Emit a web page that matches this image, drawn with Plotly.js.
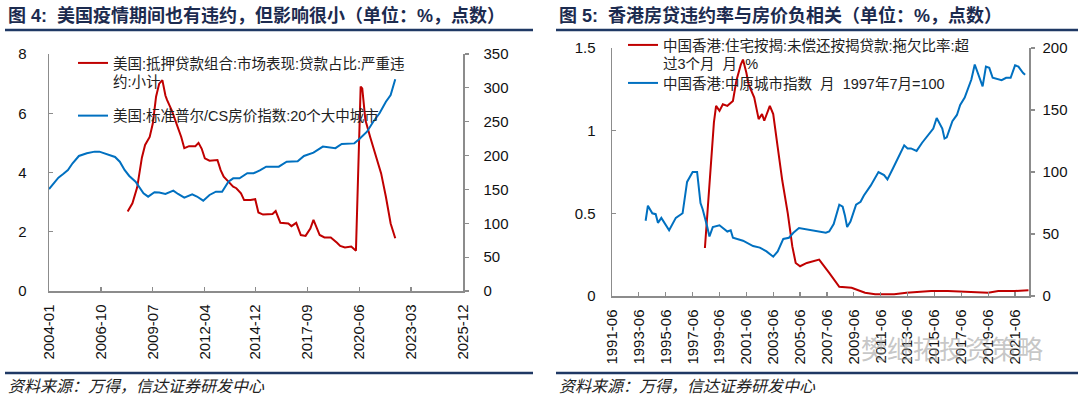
<!DOCTYPE html>
<html>
<head>
<meta charset="utf-8">
<script src="https://cdn.plot.ly/plotly-3.0.1.min.js"></script>
<style>html,body{margin:0;padding:0;background:#fff;}#chart{width:1080px;height:398px;}</style>
</head>
<body>
<div id="chart"></div>
<script>
// ---------- Figure 4 data (US) ----------
const usDelinqDates = ['2008-03','2008-06','2008-09','2008-12','2009-02','2009-05','2009-07','2009-09','2009-11','2010-01','2010-03','2010-04','2010-07','2010-10','2011-01','2011-03','2011-06','2011-10','2011-12','2012-02','2012-04','2012-07','2012-12','2013-02','2013-04','2013-07','2013-10','2013-12','2014-03','2014-05','2014-09','2014-12','2015-02','2015-05','2015-11','2016-01','2016-04','2016-09','2016-11','2017-02','2017-05','2017-08','2017-11','2018-01','2018-03','2018-05','2018-08','2018-12','2019-04','2019-06','2019-09','2020-01','2020-04','2020-07','2020-08','2020-10','2021-01','2021-04','2021-08','2021-11','2022-02','2022-05'];
const usDelinqValues = [2.68,2.96,3.5,4.5,4.93,5.2,5.66,6.56,7.0,7.12,6.6,6.45,6.1,5.66,5.2,4.82,4.89,4.89,5.0,4.8,4.48,4.4,4.42,4.08,3.86,3.69,3.52,3.47,3.3,3.07,3.07,3.1,2.65,2.58,2.6,2.7,2.3,2.28,2.19,2.3,1.89,1.86,2.11,2.4,2.17,1.89,1.81,1.81,1.63,1.52,1.47,1.5,1.36,6.9,6.84,5.77,5.2,4.65,3.97,3.18,2.28,1.78];
const usHpiDates = ['2004-01','2004-03','2004-07','2004-10','2005-01','2005-04','2005-08','2006-01','2006-06','2006-09','2006-12','2007-04','2007-07','2007-10','2008-01','2008-04','2008-08','2009-01','2009-04','2009-08','2009-11','2010-03','2010-08','2010-11','2011-03','2011-08','2011-11','2012-03','2012-07','2012-11','2013-03','2013-07','2013-10','2014-02','2014-07','2014-11','2015-03','2015-07','2016-03','2016-08','2017-03','2017-07','2018-01','2018-07','2018-10','2019-01','2019-03','2019-07','2020-03','2020-06','2020-11','2021-03','2021-07','2021-11','2022-02','2022-05'];
const usHpiValues = [150.6,156.6,167.4,172.8,178.7,188.6,199.4,203.4,205.8,205.8,203.4,199.9,198,191,178.7,169.9,161.5,144.3,139.3,145.8,145.5,143.3,148.2,143.3,137.8,142.8,139.5,133.4,141.8,146.7,146.7,161.5,166.4,166.4,173.9,173.9,178,183.6,183.6,191,191.5,199.4,204.3,213.2,212.2,212,211,217.1,218,224,235.3,250,262.5,279.6,289.5,312.6];
const usTickVals = ['2004-01-01','2006-10-01','2009-07-01','2012-04-01','2014-12-01','2017-09-01','2020-06-01','2023-03-01','2025-12-01'];
const usTickText = ['2004-01','2006-10','2009-07','2012-04','2014-12','2017-09','2020-06','2023-03','2025-12'];
const usDelinqName = '美国:抵押贷款组合:市场表现:贷款占比:严重违<br>约:小计';
const usHpiName = '美国:标准普尔/CS房价指数:20个大中城市';

// ---------- Figure 5 data (Hong Kong) ----------
const hkDelinqDates = ['1998-05','1998-09','1999-01','1999-03','1999-06','1999-09','2000-01','2000-06','2000-09','2001-01','2001-03','2001-06','2001-08','2002-01','2002-05','2002-08','2002-10','2003-03','2003-06','2003-10','2004-02','2004-07','2004-11','2005-02','2005-06','2005-12','2006-06','2006-11','2007-08','2008-05','2009-04','2010-04','2011-01','2012-06','2013-05','2015-03','2016-06','2017-09','2019-06','2020-03','2021-06','2022-06'];
const hkDelinqValues = [0.29,0.7,1.05,1.15,1.12,1.16,1.15,1.18,1.3,1.4,1.43,1.35,1.28,1.2,1.07,1.1,1.06,1.15,1.1,0.9,0.7,0.5,0.3,0.2,0.18,0.2,0.21,0.22,0.14,0.056,0.05,0.02,0.01,0.01,0.02,0.03,0.03,0.025,0.02,0.03,0.03,0.035];
const hkCclDates = ['1993-12','1994-02','1994-06','1994-09','1994-11','1995-02','1995-09','1996-03','1996-09','1997-01','1997-06','1997-10','1998-01','1998-03','1998-07','1998-09','1998-12','1999-06','2000-01','2000-04','2000-06','2001-03','2001-12','2002-06','2002-12','2003-06','2003-10','2004-03','2004-08','2004-12','2005-05','2006-03','2006-11','2007-05','2007-08','2007-12','2008-05','2008-08','2008-10','2008-12','2009-03','2009-08','2009-12','2010-03','2010-09','2011-04','2011-09','2011-12','2012-05','2012-11','2013-03','2013-06','2013-09','2014-02','2014-07','2015-05','2015-08','2016-01','2016-03','2016-05','2016-10','2017-02','2017-05','2017-09','2017-12','2018-03','2018-06','2018-09','2019-01','2019-04','2019-07','2019-10','2020-02','2020-06','2020-10','2021-02','2021-06','2021-09','2022-01','2022-03'];
const hkCclValues = [60.7,72.8,66.7,66,59,63,53,63,66.7,92,100,100,75,70,56,48,55.6,57,52,53,47,44.6,40.3,39,36,31.7,36,46,47,51,54.8,53,52,51,52,58,73.6,72,65,55.6,60,73.6,76,81,89,100,97.5,94,103,114,121.5,119,119,117,123.6,135,143.6,135,127,128,141,146,154,160,166.6,174.6,186.7,178.5,169,185,184,176,175,174,176,176,186,185,180,178.5];
const hkTickVals = ['1991-06-01','1993-06-01','1995-06-01','1997-06-01','1999-06-01','2001-06-01','2003-06-01','2005-06-01','2007-06-01','2009-06-01','2011-06-01','2013-06-01','2015-06-01','2017-06-01','2019-06-01','2021-06-01'];
const hkTickText = ['1991-06','1993-06','1995-06','1997-06','1999-06','2001-06','2003-06','2005-06','2007-06','2009-06','2011-06','2013-06','2015-06','2017-06','2019-06','2021-06'];
const hkDelinqName = '中国香港:住宅按揭:未偿还按揭贷款:拖欠比率:超<br>过3个月  月  %';
const hkCclName = '中国香港:中原城市指数  月  1997年7月=100';

const title4 = '<b>图 4:  美国疫情期间也有违约，但影响很小（单位：%，点数）</b>';
const title5 = '<b>图 5:  香港房贷违约率与房价负相关（单位：%，点数）</b>';
const sourceText = '<i>资料来源：万得，信达证券研发中心</i>';
const watermark = '樊继拓投资策略';

// ---------- layout helpers ----------
const W = 1080, H = 398;
const px = x => x / W;
const py = y => 1 - y / H;
const RED = '#C00000', BLUE = '#0070C0';
const FONT = 'Liberation Sans, Arial, Noto Sans CJK SC, sans-serif';
const AXC = '#8c8c8c';

const traces = [
  {x: usDelinqDates, y: usDelinqValues, name: usDelinqName, type: 'scatter', mode: 'lines',
   line: {color: RED, width: 2}, xaxis: 'x', yaxis: 'y', legend: 'legend', legendgroup: 'a'},
  {x: usHpiDates, y: usHpiValues, name: usHpiName, type: 'scatter', mode: 'lines',
   line: {color: BLUE, width: 2}, xaxis: 'x', yaxis: 'y2', legend: 'legend', legendgroup: 'b'},
  {x: hkDelinqDates, y: hkDelinqValues, name: hkDelinqName, type: 'scatter', mode: 'lines',
   line: {color: RED, width: 2}, xaxis: 'x2', yaxis: 'y3', legend: 'legend2', legendgroup: 'c'},
  {x: hkCclDates, y: hkCclValues, name: hkCclName, type: 'scatter', mode: 'lines',
   line: {color: BLUE, width: 2}, xaxis: 'x2', yaxis: 'y4', legend: 'legend3', legendgroup: 'd'}
];

const baseAxis = {
  showline: true, linecolor: AXC, linewidth: 1.5, showgrid: false, zeroline: false,
  tickcolor: AXC, ticklen: 4, tickwidth: 1.2, tickfont: {family: FONT, size: 15, color: '#111'}
};
const xBase = Object.assign({}, baseAxis, {type: 'date', tickmode: 'array', tickangle: -90, ticks: 'inside',
  tickfont: {family: FONT, size: 15, color: '#111'}, ticklabelstandoff: 6});
const legendFont = {family: FONT, size: 14.5, color: '#222'};

const layout = {
  width: W, height: H,
  margin: {l: 0, r: 0, t: 0, b: 0},
  paper_bgcolor: '#fff', plot_bgcolor: 'rgba(0,0,0,0)',
  font: {family: FONT, color: '#111'},
  xaxis: Object.assign({}, xBase, {domain: [px(49), px(463)], anchor: 'y',
    range: ['2004-01-01', '2025-12-01'], tickvals: usTickVals, ticktext: usTickText}),
  yaxis: Object.assign({}, baseAxis, {domain: [py(291), py(54)], anchor: 'x', range: [0, 8], dtick: 2,
    ticks: 'inside', ticklabelstandoff: 18}),
  yaxis2: Object.assign({}, baseAxis, {overlaying: 'y', side: 'right', anchor: 'x', range: [0, 350], dtick: 50,
    ticks: 'outside', ticklabelstandoff: 12}),
  xaxis2: Object.assign({}, xBase, {domain: [px(612), px(1029)], anchor: 'y3',
    range: ['1991-06-01', '2022-06-15'], tickvals: hkTickVals, ticktext: hkTickText}),
  yaxis3: Object.assign({}, baseAxis, {domain: [py(296), py(48)], anchor: 'x2', range: [0, 1.5],
    tickmode: 'array', tickvals: [0, 0.5, 1, 1.5], ticktext: ['0', '0.5', '1', '1.5'],
    ticks: 'inside', ticklabelstandoff: 12}),
  yaxis4: Object.assign({}, baseAxis, {overlaying: 'y3', side: 'right', anchor: 'x2', range: [0, 200], dtick: 50,
    ticks: 'outside', ticklabelstandoff: 5}),
  showlegend: true,
  legend: {x: px(73), y: py(47), xanchor: 'left', yanchor: 'top', bgcolor: 'rgba(0,0,0,0)',
    font: legendFont, valign: 'top', tracegroupgap: 12, traceorder: 'grouped'},
  legend2: {x: px(623), y: py(29), xanchor: 'left', yanchor: 'top', bgcolor: 'rgba(0,0,0,0)',
    font: legendFont, valign: 'top', traceorder: 'grouped'},
  legend3: {x: px(623), y: py(67), xanchor: 'left', yanchor: 'top', bgcolor: 'rgba(0,0,0,0)',
    font: legendFont, valign: 'top', traceorder: 'grouped'},
  shapes: [
    {type: 'line', xref: 'paper', yref: 'paper', x0: px(5), x1: px(533), y0: py(30), y1: py(30), line: {color: '#1f3864', width: 2.5}},
    {type: 'line', xref: 'paper', yref: 'paper', x0: px(556), x1: px(1078), y0: py(30), y1: py(30), line: {color: '#1f3864', width: 2.5}},
    {type: 'line', xref: 'paper', yref: 'paper', x0: px(5), x1: px(533), y0: py(373), y1: py(373), line: {color: '#1f3864', width: 2.5}},
    {type: 'line', xref: 'paper', yref: 'paper', x0: px(556), x1: px(1078), y0: py(373), y1: py(373), line: {color: '#1f3864', width: 2.5}}
  ],
  annotations: [
    {text: title4, xref: 'paper', yref: 'paper', x: px(6), y: py(16), xanchor: 'left', yanchor: 'middle', showarrow: false,
     font: {family: FONT, size: 18, color: '#1c2b4f'}},
    {text: title5, xref: 'paper', yref: 'paper', x: px(557), y: py(16), xanchor: 'left', yanchor: 'middle', showarrow: false,
     font: {family: FONT, size: 18, color: '#1c2b4f'}},
    {text: sourceText, xref: 'paper', yref: 'paper', x: px(6), y: py(386), xanchor: 'left', yanchor: 'middle', showarrow: false,
     font: {family: FONT, size: 16, color: '#222'}},
    {text: sourceText, xref: 'paper', yref: 'paper', x: px(557), y: py(386), xanchor: 'left', yanchor: 'middle', showarrow: false,
     font: {family: FONT, size: 16, color: '#222'}},
    {text: watermark, xref: 'paper', yref: 'paper', x: px(952), y: py(350), xanchor: 'center', yanchor: 'middle', showarrow: false,
     font: {family: FONT, size: 26, color: 'rgba(150,150,150,0.55)'}}
  ]
};

Plotly.newPlot('chart', traces, layout, {staticPlot: true, displayModeBar: false});
</script>
</body>
</html>
